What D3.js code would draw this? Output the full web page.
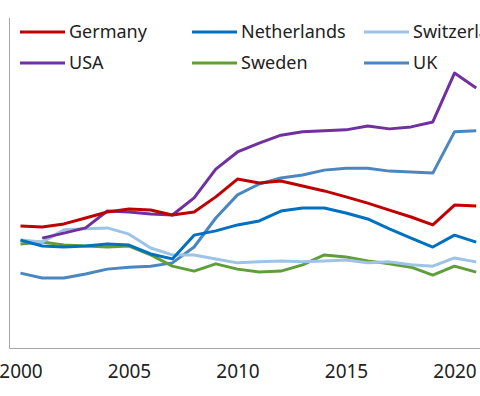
<!DOCTYPE html>
<html>
<head>
<meta charset="utf-8">
<script src="https://cdn.jsdelivr.net/npm/d3@7"></script>
<style>
  html, body { margin: 0; padding: 0; background: #fff; }
  svg { display: block; font-family: "Noto Sans", "Open Sans", sans-serif; }
</style>
</head>
<body>
<svg id="main-svg"></svg>
<script>
// --- Data ---
const years = d3.range(2000, 2022);
const tickYears = [2000, 2005, 2010, 2015, 2020];

const germany     = [37.0, 36.7, 37.6, 39.4, 41.2, 42.1, 41.8, 40.3, 41.2, 45.8, 51.2, 50.0, 50.6, 49.1, 47.6, 45.8, 43.9, 41.8, 39.7, 37.3, 43.3, 43.0];
const usa         = [null, 33.3, 34.8, 36.4, 41.5, 41.2, 40.6, 40.3, 45.5, 54.2, 59.4, 62.1, 64.5, 65.5, 65.8, 66.1, 67.3, 66.4, 67.0, 68.5, 83.3, 78.8];
const netherlands = [32.7, 30.9, 30.6, 30.9, 31.5, 31.2, 28.5, 27.0, 34.2, 35.5, 37.3, 38.5, 41.5, 42.4, 42.4, 40.9, 39.1, 36.1, 33.3, 30.6, 34.2, 32.1];
const sweden      = [31.5, 32.1, 31.2, 30.9, 30.6, 30.9, 28.2, 24.8, 23.3, 25.5, 23.9, 23.0, 23.3, 25.2, 28.2, 27.6, 26.4, 25.5, 24.5, 22.1, 24.8, 23.0];
const switzerland = [32.7, 32.1, 35.8, 36.1, 36.4, 34.5, 30.3, 28.2, 28.2, 27.0, 25.8, 26.1, 26.4, 26.1, 26.4, 26.7, 25.8, 26.1, 25.2, 24.8, 27.3, 26.1];
const uk          = [22.7, 21.2, 21.2, 22.4, 23.9, 24.5, 24.8, 25.8, 30.6, 39.4, 46.4, 49.7, 51.5, 52.4, 53.9, 54.5, 54.5, 53.6, 53.3, 53.0, 65.5, 65.8];

// legend order: row by row, three columns
const seriesNames = ["Germany", "Netherlands", "Switzerland", "USA", "Sweden", "UK"];
const seriesValues = [germany, netherlands, switzerland, usa, sweden, uk];
const seriesColors = ["#c00000", "#0070c0", "#9dc3e6", "#7030a0", "#5f9e3a", "#4a86c0"];

// draw order (back to front)
const drawOrder = ["UK", "Sweden", "Switzerland", "Netherlands", "USA", "Germany"];

// --- Setup ---
const width = 480, height = 396;
const svg = d3.select("#main-svg").attr("width", width).attr("height", height);

const x = d3.scaleLinear().domain([2000, 2021]).range([20.5, 476.2]);
const y = d3.scaleLinear().domain([0, 100]).range([348, 18]);
const axisColor = "#a6a6a6";

// axes lines
svg.append("line")
   .attr("x1", 9.5).attr("x2", 9.5)
   .attr("y1", y(100)).attr("y2", y(0) + 0.5)
   .attr("stroke", axisColor).attr("stroke-width", 1);
svg.append("line")
   .attr("x1", 9.5).attr("x2", width)
   .attr("y1", y(0) + 0.5).attr("y2", y(0) + 0.5)
   .attr("stroke", axisColor).attr("stroke-width", 1);

// x tick labels
const xAxis = d3.axisBottom(x).tickValues(tickYears).tickFormat(d3.format("d")).tickSize(0).tickPadding(17);
const gx = svg.append("g").attr("transform", `translate(0, ${y(0)})`).call(xAxis);
gx.select(".domain").remove();
gx.selectAll("text").attr("font-size", 19).attr("fill", "#222")
  .attr("font-family", '"Noto Sans", sans-serif');

// lines
const line = d3.line()
    .defined(d => d[1] != null)
    .x(d => x(d[0]))
    .y(d => y(d[1]));

drawOrder.forEach(name => {
    const i = seriesNames.indexOf(name);
    const pts = years.map((yr, j) => [yr, seriesValues[i][j]]);
    svg.append("path")
       .datum(pts)
       .attr("d", line)
       .attr("fill", "none")
       .attr("stroke", seriesColors[i])
       .attr("stroke-width", 3)
       .attr("stroke-linejoin", "round");
});

// legend
const legendX = [20, 192, 364];
const legendY = [32, 63];
const legend = svg.append("g");
seriesNames.forEach((name, i) => {
    const lx = legendX[i % 3], ly = legendY[Math.floor(i / 3)];
    legend.append("line")
          .attr("x1", lx).attr("x2", lx + 45)
          .attr("y1", ly).attr("y2", ly)
          .attr("stroke", seriesColors[i]).attr("stroke-width", 3);
    legend.append("text")
          .attr("x", lx + 49).attr("y", ly)
          .attr("dy", "0.35em")
          .attr("font-size", 18)
          .attr("fill", "#222")
          .text(name);
});
</script>
</body>
</html>
